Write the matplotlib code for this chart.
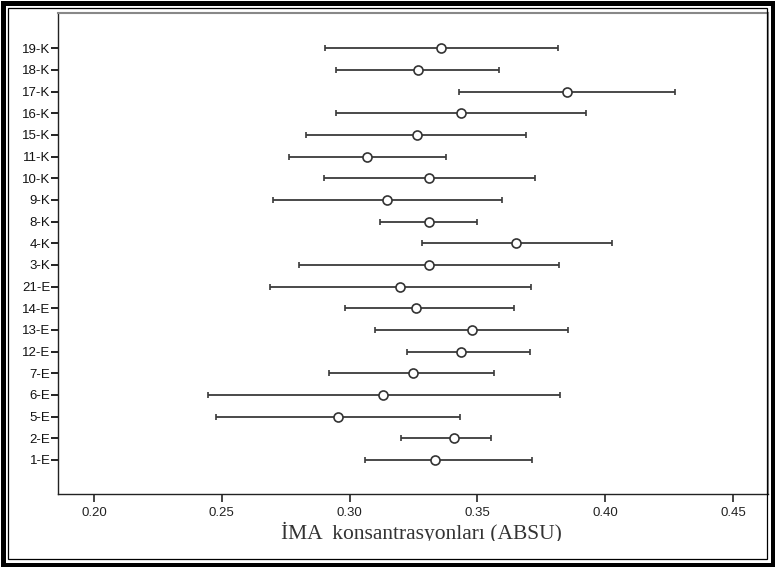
import numpy as np
import matplotlib
matplotlib.use('Agg')
import matplotlib.pyplot as plt
from matplotlib.patches import Rectangle

# group labels, bottom to top
labels = ['1-E', '2-E', '5-E', '6-E', '7-E', '12-E', '13-E', '14-E', '21-E', '3-K',
          '4-K', '8-K', '9-K', '10-K', '11-K', '15-K', '16-K', '17-K', '18-K', '19-K']

# mean and lower / upper limits (ABSU)
means = [0.3333, 0.3408, 0.2955, 0.3132, 0.3247, 0.3436, 0.3478, 0.3258, 0.3199, 0.3309,
         0.3652, 0.3309, 0.3148, 0.3312, 0.3068, 0.3262, 0.3436, 0.3852, 0.3266, 0.3358]
lower = [0.3059, 0.3201, 0.2476, 0.2446, 0.2918, 0.3225, 0.3098, 0.2982, 0.2687, 0.2802,
         0.3282, 0.3119, 0.2699, 0.2901, 0.2762, 0.2831, 0.2948, 0.3428, 0.2946, 0.2904]
upper = [0.3714, 0.3553, 0.3431, 0.3823, 0.3565, 0.3706, 0.3855, 0.3643, 0.3709, 0.3818,
         0.4025, 0.3500, 0.3597, 0.3725, 0.3376, 0.3691, 0.3924, 0.4273, 0.3586, 0.3815]

xticks = [0.20, 0.25, 0.30, 0.35, 0.40, 0.45]

plt.rcParams['font.family'] = ['Liberation Sans', 'DejaVu Sans']

W, H = 775, 567
fig = plt.figure(figsize=(7.75, 5.67), dpi=100)
ax = fig.add_axes([58 / W, 73 / H, 710 / W, 481 / H])

y = np.arange(len(labels))
means = np.array(means)
err = [means - np.array(lower), np.array(upper) - means]

ax.errorbar(means, y, xerr=err, fmt='o', color='#3a3a3a', ecolor='#3a3a3a',
            elinewidth=1.3, capsize=2.5, capthick=1.3,
            markersize=6.5, markerfacecolor='white', markeredgecolor='#333333',
            markeredgewidth=1.2)

ax.set_xlim(0.1859, 0.4637)
ax.set_ylim(-1.57, 20.63)
ax.set_xticks(xticks)
ax.set_xticklabels(['%.2f' % t for t in xticks], fontsize=9.5, color='#222222')
ax.set_yticks(y)
ax.set_yticklabels(labels, fontsize=9.5, color='#111111')
ax.tick_params(axis='y', length=5, width=1.4, color='#222222', pad=0.5)
ax.tick_params(axis='x', length=6, width=1.4, color='#444444', pad=3)

for s in ['left', 'bottom']:
    ax.spines[s].set_color('#222222')
    ax.spines[s].set_linewidth(1.0)
for s in ['top', 'right']:
    ax.spines[s].set_color('#888888')
    ax.spines[s].set_linewidth(1.5)

fig.text(421 / W, 1 - 539 / H, 'İMA  konsantrasyonları (ABSU)',
         family=['Liberation Serif', 'DejaVu Serif'], fontsize=15.5, color='#333333',
         ha='center', va='baseline')

# the lower edge of the title is cut off in the source image
fig.add_artist(Rectangle((10 / W, 9 / H), 1 - 20 / W, 17 / H, transform=fig.transFigure,
                         facecolor='white', edgecolor='none', zorder=9))

# outer frame
fig.add_artist(Rectangle((2.5 / W, 2.5 / H), 1 - 5 / W, 1 - 5 / H, transform=fig.transFigure,
                         fill=False, edgecolor='black', linewidth=3.6, zorder=10))
fig.add_artist(Rectangle((8 / W, 8 / H), 1 - 16 / W, 1 - 16 / H, transform=fig.transFigure,
                         fill=False, edgecolor='black', linewidth=0.9, zorder=10))

fig.savefig('out.png', dpi=100)
